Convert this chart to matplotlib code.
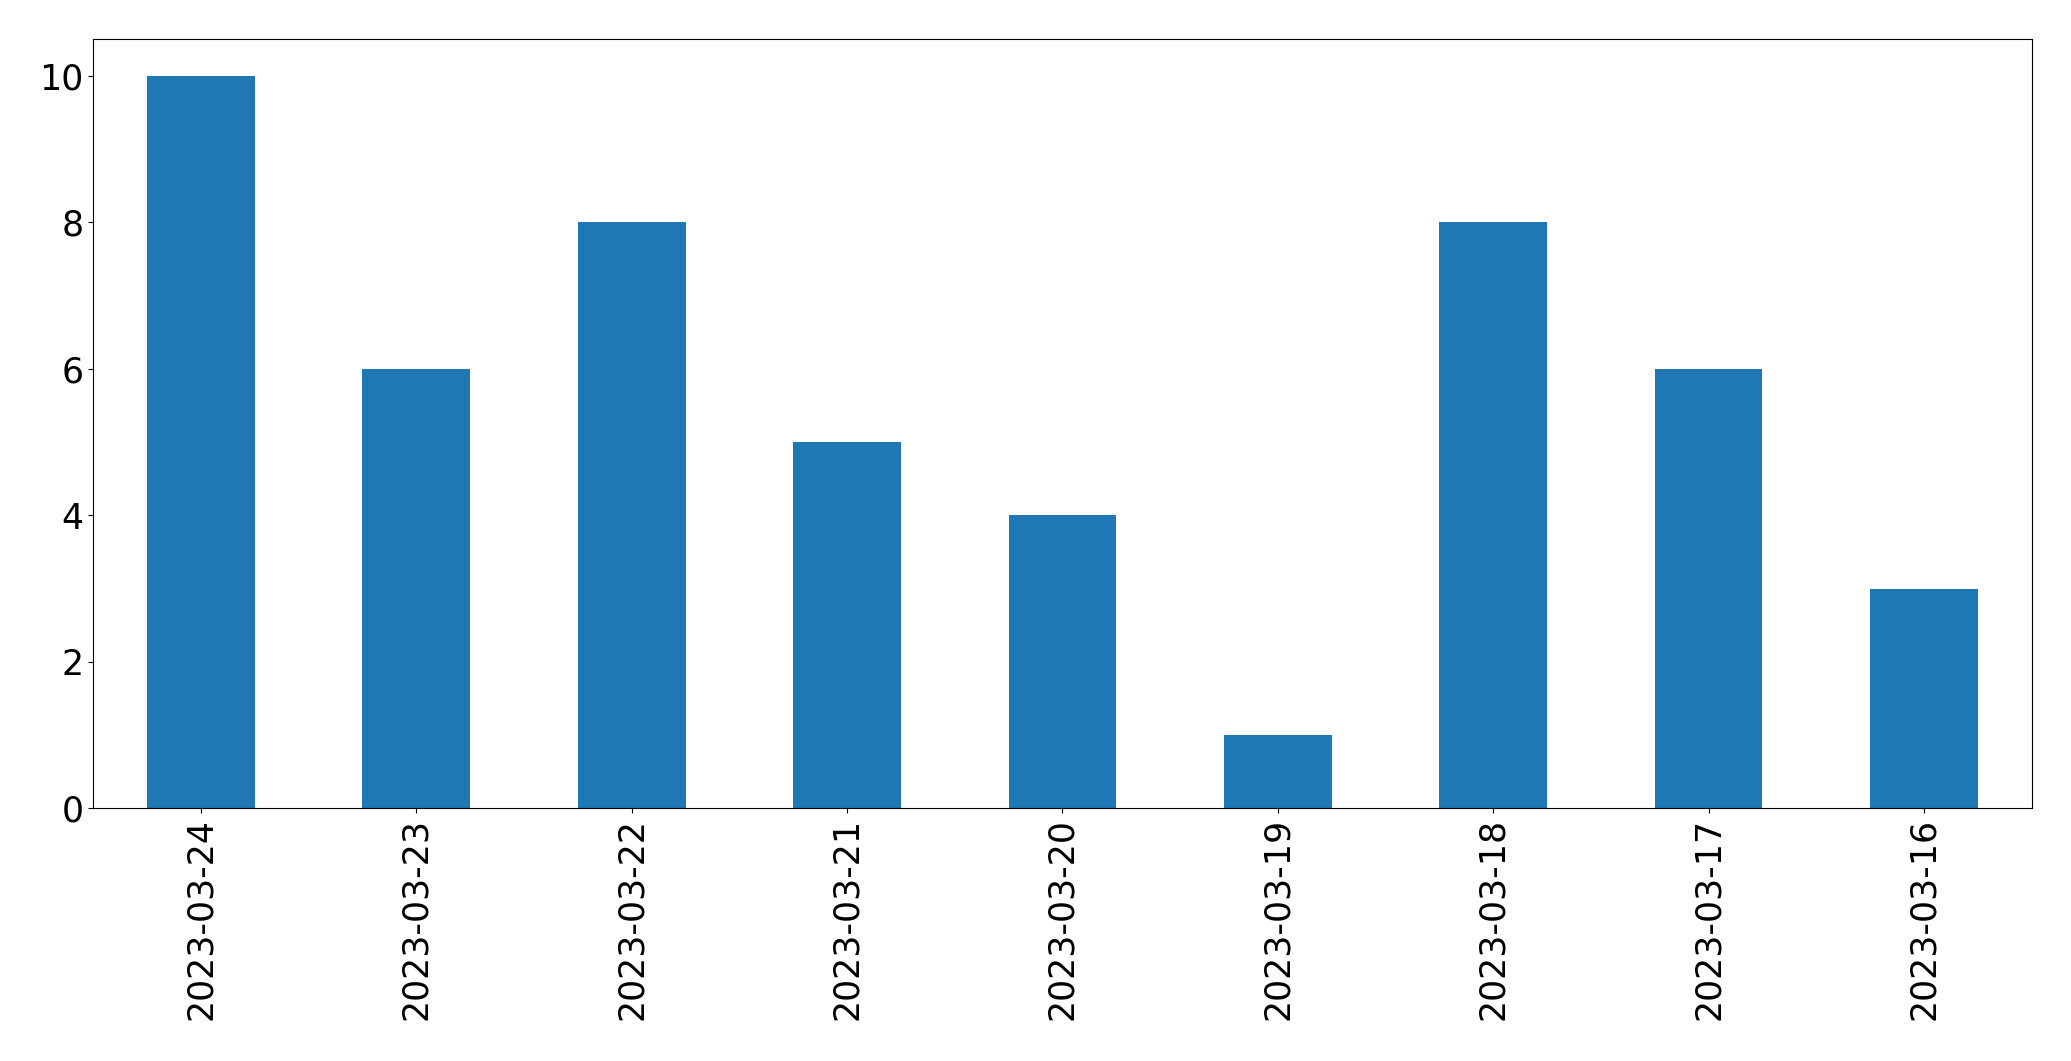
import matplotlib
matplotlib.use("Agg")
import matplotlib.pyplot as plt

dates = ["2023-03-24", "2023-03-23", "2023-03-22", "2023-03-21", "2023-03-20",
         "2023-03-19", "2023-03-18", "2023-03-17", "2023-03-16"]
counts = [10, 6, 8, 5, 4, 1, 8, 6, 3]

fig = plt.figure(figsize=(20.71, 10.61), dpi=100)
ax = fig.add_axes([0.045, 0.238, 0.936, 0.725])
x = range(len(dates))
ax.bar(x, counts, width=0.5, color="#1f77b4")
ax.set_xticks(list(x))
ax.set_xticklabels(dates, rotation=90)
ax.set_xlim(-0.5, len(dates) - 0.5)
ax.set_ylim(0, 10.5)
ax.tick_params(labelsize=25)

fig.savefig("out.png", dpi=100)
